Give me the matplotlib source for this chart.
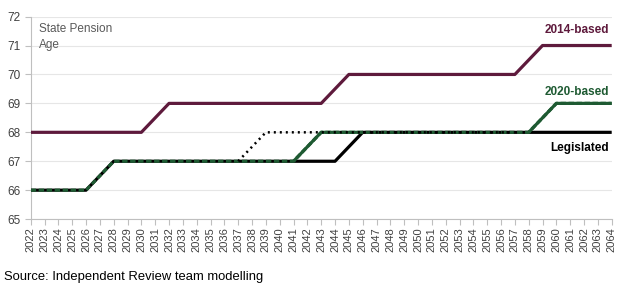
import numpy as np
import matplotlib
matplotlib.use("Agg")
import matplotlib.pyplot as plt

plt.rcParams['font.family'] = ['Liberation Sans', 'DejaVu Sans']

years = list(range(2022, 2065))

spa_2014 = [68] * 9 + [68.5] + [69] * 12 + [69.5] + [70] * 13 + [70.5] + [71] * 6
spa_legislated = [66] * 5 + [66.5] + [67] * 17 + [67.5] + [68] * 19
spa_2020 = [66] * 5 + [66.5] + [67] * 14 + [67.5] + [68] * 16 + [68.5] + [69] * 5
spa_dotted = [np.nan] * 15 + [67, 67.5] + [68] * 19 + [np.nan] * 7

maroon = '#5E1A3C'
green = '#1E5A32'
grey = '#595959'
tickcol = '#404040'

fig = plt.figure(figsize=(6.34, 2.91), dpi=100)
ax = fig.add_axes([0.0484, 0.247, 0.9164, 0.696])

x = np.array(years)
leg = np.array(spa_legislated, dtype=float)
s20 = np.array(spa_2020, dtype=float)

ax.plot(x, spa_2014, color=maroon, lw=2.3, solid_capstyle='butt', zorder=3)
ax.plot(x, leg, color='black', lw=2.3, solid_capstyle='butt', zorder=3)

# 2020-based: solid where it leaves the legislated line, dashed on top of it
differs = s20 != leg
solid_mask = differs | np.r_[differs[1:], False] | np.r_[False, differs[:-1]]
s20_solid = np.where(solid_mask, s20, np.nan)
ax.plot(x, s20, color=green, lw=2.3, ls=(0, (1.7, 0.8)), dash_capstyle='butt', zorder=4)
ax.plot(x, s20_solid, color=green, lw=2.3, solid_capstyle='butt', zorder=4)

ax.plot(x, spa_dotted, color='black', lw=1.8, ls=(0, (0.8, 1.6)), zorder=5)

ax.set_xlim(2022, 2064)
ax.set_ylim(65, 72)
ax.set_xticks(years)
ax.set_xticklabels([str(y) for y in years], rotation=90, fontsize=8, color=tickcol)
ax.set_yticks(range(65, 73))
ax.tick_params(axis='y', length=4, color='#BFBFBF', labelsize=8.5, labelcolor=tickcol, pad=3)
ax.tick_params(axis='x', length=4, color='#BFBFBF', pad=2)
ax.grid(axis='y', color='#E6E6E6', lw=0.8)
ax.set_axisbelow(True)
for s in ['top', 'right']:
    ax.spines[s].set_visible(False)
for s in ['left', 'bottom']:
    ax.spines[s].set_color('#BFBFBF')
    ax.spines[s].set_linewidth(0.8)

ax.text(0.015, 0.97, 'State Pension\nAge', transform=ax.transAxes, ha='left', va='top',
        fontsize=8.5, color=grey, linespacing=1.5)

ax.text(2063.8, 71.55, '2014-based', ha='right', va='center', fontsize=8.5,
        fontweight='bold', color=maroon)
ax.text(2063.8, 69.4, '2020-based', ha='right', va='center', fontsize=8.5,
        fontweight='bold', color=green)
ax.text(2063.8, 67.45, 'Legislated', ha='right', va='center', fontsize=8.5,
        fontweight='bold', color='black')

fig.text(0.006, 0.048, 'Source: Independent Review team modelling', fontsize=9.4,
         color='black', ha='left', va='center')

fig.savefig('out.png', dpi=100)
